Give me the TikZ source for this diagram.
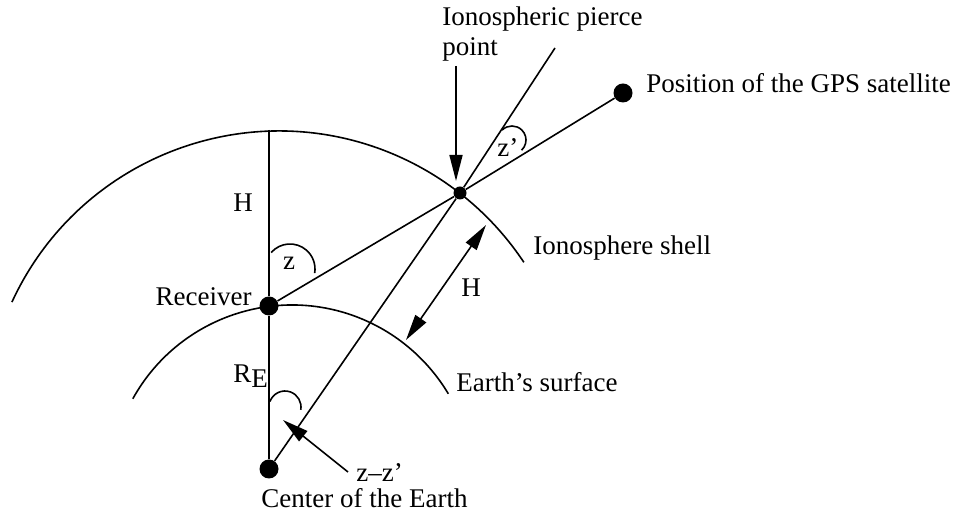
\documentclass[tikz,border=0pt]{standalone}
\usepackage{fontspec}
\setmainfont{Liberation Serif}
\usetikzlibrary{arrows.meta}

\begin{document}
\begin{tikzpicture}[
  x=0.5pt,
  y=-0.5pt,
  line join=round,
  font=\fontsize{13.5}{15}\selectfont,
  geom/.style={draw=black,line width=0.8pt},
  dot/.style={circle,fill=black,inner sep=0pt,minimum size=9.5pt},
  smalldot/.style={circle,fill=black,inner sep=0pt,minimum size=6.5pt},
  lbl/.style={inner sep=0pt},
  pointer/.style={draw=black,line width=0.8pt,-{Triangle[length=13pt,width=6.5pt]}},
  dblpointer/.style={draw=black,line width=0.8pt,{Triangle[length=13pt,width=6.5pt]}-{Triangle[length=13pt,width=6.5pt]}}
]
  % Match the artwork frame.
  \useasboundingbox (0,0) rectangle (954,517);

  % Main points: earth center, receiver, pierce point, satellite.
  \node[dot] (ctr) at (269,469) {};
  \node[dot] (rcv) at (269,306) {};
  \node[smalldot] (pp) at (460,193) {};
  \node[dot] (sat) at (623,93) {};
  \coordinate (ionotop) at (269,130);
  \coordinate (skyend) at (555,48);

  % Arc centres of the two shells.
  \coordinate (shc) at (279,425);
  \coordinate (earthc) at (292,487);

  % Ionosphere shell and earth surface.
  \draw[geom] (shc) ++(155.3:147pt) arc[start angle=155.3,end angle=33.6,radius=147pt];
  \draw[geom] (earthc) ++(151:91pt) arc[start angle=151,end angle=30.8,radius=91pt];

  % Geometry lines.
  \draw[geom] (ionotop) -- (rcv);
  \draw[geom] (rcv) -- (ctr);
  \draw[geom] (rcv) -- (pp);
  \draw[geom] (ctr) -- (pp);
  \draw[geom] (pp) -- (skyend);
  \draw[geom] (pp) -- (sat);

  % Angle marks.
  \coordinate (zc) at (290,269);
  \coordinate (zpc) at (512,140);
  \coordinate (zzc) at (285,407);
  \draw[geom] (zc) ++(139:12.5pt) arc[start angle=139,end angle=-9.5,radius=12.5pt];
  \draw[geom] (zpc) ++(135:7pt) arc[start angle=135,end angle=-47,radius=7pt];
  \draw[geom] (zzc) ++(160:8pt) arc[start angle=160,end angle=-10,radius=8pt];

  % Pointer arrows.
  \coordinate (ppa) at (456,66);
  \coordinate (ppb) at (456,181);
  \coordinate (hup) at (486,225);
  \coordinate (hlo) at (406,340);
  \coordinate (zzs) at (348,472);
  \coordinate (zzt) at (283,420);
  \draw[pointer] (ppa) -- (ppb);
  \draw[dblpointer] (hlo) -- (hup);
  \draw[pointer] (zzs) -- (zzt);

  % Labels.
  \node[lbl,anchor=north west,align=left] (ipplbl) at (442,6.5) {Ionospheric pierce\\point};
  \node[lbl,anchor=base west] (satlbl) at (646,93) {Position of the GPS satellite};
  \node[lbl,anchor=base west] (shelllbl) at (533,255) {Ionosphere shell};
  \node[lbl,anchor=base west] (earthlbl) at (456,392) {Earth's surface};
  \node[lbl,anchor=base east] (rcvlbl) at (252,306) {Receiver};
  \node[lbl,anchor=base] (hlbl) at (243,212) {H};
  \node[lbl,anchor=base] (zlbl) at (289,270) {z};
  \node[lbl,anchor=base west] (relbl) at (233,383) {R\raisebox{-2.5pt}{E}};
  \node[lbl,anchor=base west] (hmidlbl) at (461,297) {H};
  \node[lbl,anchor=base west] (zplbl) at (497,157) {z'};
  \node[lbl,anchor=base west] (zzlbl) at (356,482) {z--z'};
  \node[lbl,anchor=base west] (ctrlbl) at (261,508) {Center of the Earth};
\end{tikzpicture}
\end{document}
